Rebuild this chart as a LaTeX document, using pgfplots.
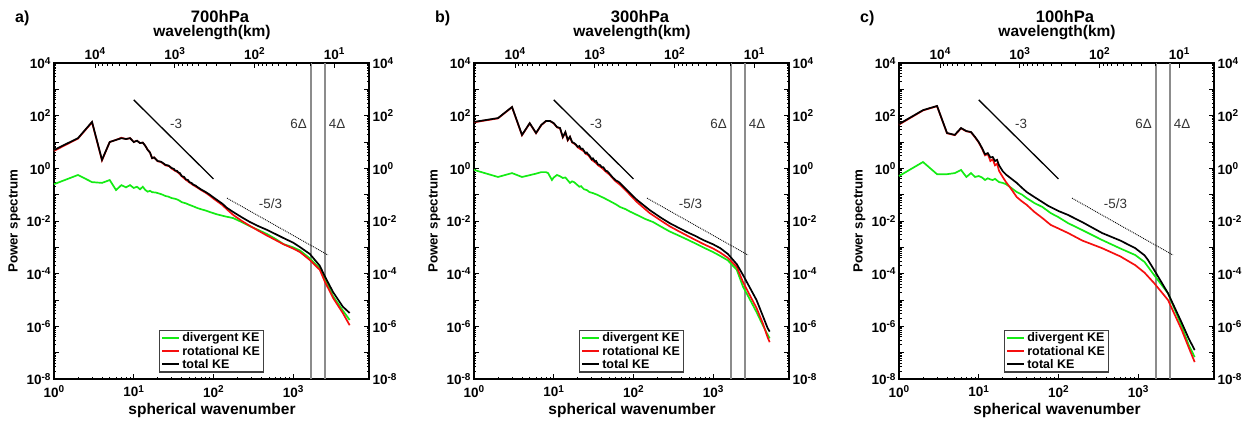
\documentclass[border=0pt]{standalone}
\usepackage{fontspec}
\setmainfont{Liberation Sans}
\usepackage{pgfplots}
\pgfplotsset{compat=1.18}
\definecolor{cg}{RGB}{20,235,20}
\definecolor{cr}{RGB}{245,15,15}
\definecolor{vl}{RGB}{140,140,140}
\newcommand\tkfont{\fontsize{13.5}{14}\selectfont\bfseries}
\newcommand\tp[1]{10\raisebox{4.5pt}{\fontsize{10}{10}\selectfont\bfseries #1}}
\newcommand\anfont{\fontsize{13.4}{14}\selectfont}
\begin{document}
\begin{tikzpicture}
\path[use as bounding box] (0pt,0pt) rectangle (1255pt,-421pt);
% ================= panel a
\begin{axis}[at={(54pt,-63pt)}, anchor=north west, scale only axis, width=315pt, height=316pt, clip=false,
    xmode=log, ymode=log, xmin=1, xmax=8950, ymin=1e-8, ymax=1e4,
    axis line style={line width=1.5pt},
    tick style={black, line width=0.9pt},
    major tick length=5pt, minor tick length=2.5pt,
    xtick={1,10,100,1000}, xticklabels={\tp{0},\tp{1},\tp{2},\tp{3}},
    xtick pos=left, ytick pos=both,
    ytick={1e-8,1e-7,1e-6,1e-5,1e-4,1e-3,1e-2,1e-1,1,1e1,1e2,1e3,1e4},
    yticklabels={\tp{-8},,\tp{-6},,\tp{-4},,\tp{-2},,\tp{0},,\tp{2},,\tp{4}},
    tick label style={font=\tkfont},
    xticklabel style={yshift=-3pt},
    legend style={at={(0.333,0.02)}, anchor=south west, draw=black!75, line width=1.2pt,
      font=\fontsize{12.5}{13}\selectfont\bfseries, inner xsep=1.5pt, inner ysep=0.5pt,
      row sep=-1.5pt, cells={anchor=west}},
    legend image post style={line width=2.2pt}]
\addplot[forget plot, vl, line width=1.5pt] coordinates {(1668,1e-8) (1668,1e4)};
\addplot[forget plot, vl, line width=1.5pt] coordinates {(2500,1e-8) (2500,1e4)};
\addplot[forget plot, black, line width=1.3pt] coordinates {(10,398) (100,0.398)};
\addplot[forget plot, black, line width=0.9pt, densely dotted] coordinates {(148,0.074) (2740,5.1e-4)};
\node[font=\anfont, text=black!80] at (axis cs:34,48) {-3};
\node[font=\anfont, text=black!80] at (axis cs:520,0.044) {-5/3};
\node[font=\anfont, text=black!80, anchor=east] at (axis cs:1640,48) {6Δ};
\node[font=\anfont, text=black!80, anchor=west] at (axis cs:2540,48) {4Δ};
\addplot[cg, line width=1.7pt] coordinates {(1,0.25) (2,0.56) (3,0.30) (4,0.28) (5,0.36) (6,0.15) (7,0.23) (8,0.19) (9,0.23) (10,0.18) (11,0.2) (12,0.16) (13,0.2) (14,0.15) (15,0.13) (16,0.14) (17,0.125) (19,0.12) (20,0.115) (22,0.105) (23,0.1) (25,0.089) (27,0.085) (30,0.074) (33,0.07) (35,0.066) (38,0.058) (40,0.052) (45,0.047) (50,0.041) (56,0.036) (63,0.031) (70,0.028) (80,0.025) (90,0.022) (110,0.018) (140,0.015) (177,0.0129) (230,0.0089) (288,0.0063) (370,0.0045) (470,0.0032) (600,0.0021) (760,0.00132) (1000,1e-3) (1220,7.6e-4) (1620,3.8e-4) (2160,1.6e-4) (2500,6.3e-5) (3170,1.4e-5) (4200,4e-6) (5120,1.74e-6)};
\addlegendentry{divergent KE}
\addplot[cr, line width=1.7pt] coordinates {(1,4.6) (2,13.5) (3,56) (4,2.0) (5,10) (6,12) (7,14.5) (8,13) (9,14) (10,10) (11,11.2) (12,9.1) (13,9.5) (14,7.1) (15,5.0) (16,4.0) (17,2.4) (18,2.6) (20,1.85) (22,1.75) (25,1.3) (28,1.2) (30,0.98) (33,0.81) (36,0.7) (40,0.5) (45,0.37) (50,0.29) (56,0.23) (63,0.185) (70,0.15) (80,0.118) (90,0.092) (100,0.071) (130,0.04) (147,0.028) (177,0.017) (230,0.0098) (288,0.0065) (370,0.0042) (470,0.0028) (600,0.0019) (760,0.0013) (1000,9e-4) (1220,6.6e-4) (1620,3.3e-4) (2160,1.4e-4) (2500,5e-5) (3170,1.2e-5) (4200,3.2e-6) (5120,1.1e-6)};
\addlegendentry{rotational KE}
\addplot[black, line width=1.7pt] coordinates {(1,5.0) (2,14) (3,58) (4,2.1) (5,10) (6,12) (7,14) (8,13) (9,14) (10,10) (11,11.2) (12,9.1) (13,9.5) (14,7.1) (15,5.0) (16,4.0) (17,2.45) (18,2.6) (20,1.9) (22,1.78) (24,1.5) (25,1.35) (27,1.3) (28,1.2) (30,1.02) (32,0.95) (33,0.83) (35,0.8) (36,0.71) (38,0.66) (40,0.51) (43,0.47) (45,0.38) (48,0.36) (50,0.30) (53,0.28) (56,0.24) (60,0.22) (63,0.195) (70,0.158) (80,0.126) (90,0.1) (100,0.079) (130,0.045) (147,0.032) (177,0.022) (230,0.0135) (288,0.0091) (370,0.0063) (470,0.0046) (600,0.0032) (760,0.00224) (1000,0.00151) (1220,0.00102) (1620,5.6e-4) (2160,2.0e-4) (2500,7.9e-5) (3170,2e-5) (4200,5.6e-6) (5120,3.2e-6)};
\addlegendentry{total KE}
\end{axis}
\begin{axis}[at={(54pt,-63pt)}, anchor=north west, scale only axis, width=315pt, height=316pt,
    xmode=log, x dir=reverse, xmin=3.66, xmax=32700, ymin=0, ymax=1,
    axis line style={draw=none}, ytick=\empty,
    xtick={10,100,1000,10000}, xticklabels={\tp{1},\tp{2},\tp{3},\tp{4}},
    xtick pos=right, xticklabel pos=right,
    tick style={black, line width=0.9pt}, major tick length=5pt, minor tick length=2.5pt,
    tick label style={font=\tkfont}]
\end{axis}
\begin{axis}[at={(54pt,-63pt)}, anchor=north west, scale only axis, width=315pt, height=316pt,
    ymode=log, ymin=1e-8, ymax=1e4, xmin=0, xmax=1,
    axis line style={draw=none}, xtick=\empty,
    ytick={1e-8,1e-6,1e-4,1e-2,1,1e2,1e4},
    yticklabels={\tp{-8},\tp{-6},\tp{-4},\tp{-2},\tp{0},\tp{2},\tp{4}},
    ytick pos=right, yticklabel pos=right, tick style={draw=none},
    tick label style={font=\tkfont}]
\end{axis}
% ================= panel b
\begin{axis}[at={(474pt,-63pt)}, anchor=north west, scale only axis, width=315pt, height=316pt, clip=false,
    xmode=log, ymode=log, xmin=1, xmax=8950, ymin=1e-8, ymax=1e4,
    axis line style={line width=1.5pt},
    tick style={black, line width=0.9pt},
    major tick length=5pt, minor tick length=2.5pt,
    xtick={1,10,100,1000}, xticklabels={\tp{0},\tp{1},\tp{2},\tp{3}},
    xtick pos=left, ytick pos=both,
    ytick={1e-8,1e-7,1e-6,1e-5,1e-4,1e-3,1e-2,1e-1,1,1e1,1e2,1e3,1e4},
    yticklabels={\tp{-8},,\tp{-6},,\tp{-4},,\tp{-2},,\tp{0},,\tp{2},,\tp{4}},
    tick label style={font=\tkfont},
    xticklabel style={yshift=-3pt},
    legend style={at={(0.333,0.02)}, anchor=south west, draw=black!75, line width=1.2pt,
      font=\fontsize{12.5}{13}\selectfont\bfseries, inner xsep=1.5pt, inner ysep=0.5pt,
      row sep=-1.5pt, cells={anchor=west}},
    legend image post style={line width=2.2pt}]
\addplot[forget plot, vl, line width=1.5pt] coordinates {(1668,1e-8) (1668,1e4)};
\addplot[forget plot, vl, line width=1.5pt] coordinates {(2500,1e-8) (2500,1e4)};
\addplot[forget plot, black, line width=1.3pt] coordinates {(10,398) (100,0.398)};
\addplot[forget plot, black, line width=0.9pt, densely dotted] coordinates {(148,0.074) (2740,5.1e-4)};
\node[font=\anfont, text=black!80] at (axis cs:34,48) {-3};
\node[font=\anfont, text=black!80] at (axis cs:520,0.044) {-5/3};
\node[font=\anfont, text=black!80, anchor=east] at (axis cs:1640,48) {6Δ};
\node[font=\anfont, text=black!80, anchor=west] at (axis cs:2540,48) {4Δ};
\addplot[cg, line width=1.7pt] coordinates {(1,0.87) (2,0.47) (3,0.66) (4,0.47) (5,0.55) (6,0.63) (7,0.72) (8,0.72) (8.5,0.66) (9.5,0.36) (10,0.45) (11,0.56) (12,0.5) (13,0.43) (14,0.45) (16,0.28) (17,0.32) (18,0.3) (19,0.26) (21,0.2) (22,0.21) (24,0.16) (26,0.15) (28,0.126) (31,0.115) (35,0.1) (39,0.085) (43,0.074) (49,0.06) (55,0.05) (61,0.042) (68,0.034) (80,0.028) (90,0.023) (111,0.017) (140,0.012) (177,0.0091) (220,0.0062) (285,0.004) (370,0.0028) (470,0.002) (600,0.0014) (750,1e-3) (1000,6.6e-4) (1230,4.7e-4) (1530,3.2e-4) (1980,1.4e-4) (2370,3.2e-5) (2800,1.26e-5) (3500,3.5e-6) (4200,1.1e-6) (4800,5e-7) (5120,3.5e-7)};
\addlegendentry{divergent KE}
\addplot[cr, line width=1.7pt] coordinates {(1,56) (2,79) (3,210) (4,18) (5,51) (6,21.5) (7,44) (8,62) (9,62) (10,51) (11,36) (12,33) (13,15) (14,23) (15,11.5) (16,15.5) (17,9.6) (18,8.8) (19,7.6) (20,6.3) (22,5.2) (24,4.4) (25,3.6) (27,3.2) (30,2.1) (33,1.7) (36,1.3) (40,1.05) (45,0.75) (50,0.58) (55,0.42) (60,0.32) (70,0.22) (83,0.13) (100,0.072) (111,0.052) (160,0.02) (220,0.0105) (285,0.0063) (370,0.0041) (470,0.0028) (600,0.0019) (750,0.00135) (1000,9e-4) (1230,6.3e-4) (1530,4e-4) (1980,1.8e-4) (2370,4.8e-5) (2800,1.8e-5) (3500,5e-6) (4200,1.3e-6) (4800,4e-7) (5120,2.5e-7)};
\addlegendentry{rotational KE}
\addplot[black, line width=1.7pt] coordinates {(1,58) (2,81) (3,214) (4,18.6) (5,52) (6,22) (7,45) (8,63) (9,63) (10,52) (11,37) (12,34) (13,15.5) (14,24) (15,12) (16,16) (17,10) (18,9.1) (19,8) (20,6.5) (21,7) (22,5.5) (23,5.6) (24,4.6) (25,3.8) (26,4.0) (27,3.4) (28,3.1) (30,2.2) (31,2.4) (33,1.8) (34,1.9) (36,1.4) (38,1.35) (40,1.12) (42,1.1) (45,0.8) (47,0.78) (50,0.63) (55,0.45) (60,0.35) (65,0.31) (70,0.25) (83,0.15) (100,0.085) (111,0.063) (160,0.026) (220,0.0135) (285,0.0083) (370,0.0055) (470,0.0038) (600,0.0027) (750,0.0019) (1000,1.3e-3) (1230,9.3e-4) (1530,5.6e-4) (1980,2.3e-4) (2370,8.9e-5) (2800,3.5e-5) (3500,1.0e-5) (4200,2.5e-6) (4800,8.9e-7) (5120,6.3e-7)};
\addlegendentry{total KE}
\end{axis}
\begin{axis}[at={(474pt,-63pt)}, anchor=north west, scale only axis, width=315pt, height=316pt,
    xmode=log, x dir=reverse, xmin=3.66, xmax=32700, ymin=0, ymax=1,
    axis line style={draw=none}, ytick=\empty,
    xtick={10,100,1000,10000}, xticklabels={\tp{1},\tp{2},\tp{3},\tp{4}},
    xtick pos=right, xticklabel pos=right,
    tick style={black, line width=0.9pt}, major tick length=5pt, minor tick length=2.5pt,
    tick label style={font=\tkfont}]
\end{axis}
\begin{axis}[at={(474pt,-63pt)}, anchor=north west, scale only axis, width=315pt, height=316pt,
    ymode=log, ymin=1e-8, ymax=1e4, xmin=0, xmax=1,
    axis line style={draw=none}, xtick=\empty,
    ytick={1e-8,1e-6,1e-4,1e-2,1,1e2,1e4},
    yticklabels={\tp{-8},\tp{-6},\tp{-4},\tp{-2},\tp{0},\tp{2},\tp{4}},
    ytick pos=right, yticklabel pos=right, tick style={draw=none},
    tick label style={font=\tkfont}]
\end{axis}
% ================= panel c
\begin{axis}[at={(899pt,-63pt)}, anchor=north west, scale only axis, width=315pt, height=316pt, clip=false,
    xmode=log, ymode=log, xmin=1, xmax=8950, ymin=1e-8, ymax=1e4,
    axis line style={line width=1.5pt},
    tick style={black, line width=0.9pt},
    major tick length=5pt, minor tick length=2.5pt,
    xtick={1,10,100,1000}, xticklabels={\tp{0},\tp{1},\tp{2},\tp{3}},
    xtick pos=left, ytick pos=both,
    ytick={1e-8,1e-7,1e-6,1e-5,1e-4,1e-3,1e-2,1e-1,1,1e1,1e2,1e3,1e4},
    yticklabels={\tp{-8},,\tp{-6},,\tp{-4},,\tp{-2},,\tp{0},,\tp{2},,\tp{4}},
    tick label style={font=\tkfont},
    xticklabel style={yshift=-3pt},
    legend style={at={(0.333,0.02)}, anchor=south west, draw=black!75, line width=1.2pt,
      font=\fontsize{12.5}{13}\selectfont\bfseries, inner xsep=1.5pt, inner ysep=0.5pt,
      row sep=-1.5pt, cells={anchor=west}},
    legend image post style={line width=2.2pt}]
\addplot[forget plot, vl, line width=1.5pt] coordinates {(1668,1e-8) (1668,1e4)};
\addplot[forget plot, vl, line width=1.5pt] coordinates {(2500,1e-8) (2500,1e4)};
\addplot[forget plot, black, line width=1.3pt] coordinates {(10,398) (100,0.398)};
\addplot[forget plot, black, line width=0.9pt, densely dotted] coordinates {(148,0.074) (2740,5.1e-4)};
\node[font=\anfont, text=black!80] at (axis cs:34,48) {-3};
\node[font=\anfont, text=black!80] at (axis cs:520,0.044) {-5/3};
\node[font=\anfont, text=black!80, anchor=east] at (axis cs:1640,48) {6Δ};
\node[font=\anfont, text=black!80, anchor=west] at (axis cs:2540,48) {4Δ};
\addplot[cg, line width=1.7pt] coordinates {(1,0.51) (2,1.74) (3,0.6) (4,0.6) (5,0.66) (6,0.87) (7,0.47) (8,0.66) (9,0.47) (10,0.51) (11,0.45) (12,0.36) (13,0.42) (14,0.38) (15,0.36) (16,0.4) (18,0.3) (20,0.28) (22,0.25) (25,0.19) (30,0.126) (35,0.1) (40,0.074) (50,0.048) (63,0.034) (80,0.02) (100,0.014) (132,0.0083) (200,0.0045) (353,0.0019) (600,9e-4) (920,5.1e-4) (1200,2.8e-4) (1585,8.9e-5) (2370,1.8e-5) (3530,1e-6) (4300,2e-7) (5120,6.8e-8)};
\addlegendentry{divergent KE}
\addplot[cr, line width=1.7pt] coordinates {(1,46) (2,158) (3,230) (4,21.5) (5,18.2) (6,33) (7,25.5) (8,23.5) (9,15) (10,9.6) (11,5.6) (12,3.1) (13,3.5) (14,1.9) (15,2.2) (16,1.3) (17,1.5) (18,0.8) (20,0.47) (22,0.3) (25,0.18) (30,0.081) (35,0.055) (40,0.041) (50,0.022) (63,0.0129) (80,0.0071) (100,0.0052) (132,0.0035) (200,0.0018) (353,9.3e-4) (600,4.5e-4) (920,2.1e-4) (1200,1.1e-4) (1585,4.4e-5) (2370,1e-5) (3530,7.2e-7) (4300,1.6e-7) (5120,4.4e-8)};
\addlegendentry{rotational KE}
\addplot[black, line width=1.7pt] coordinates {(1,48) (2,162) (3,234) (4,22) (5,18.6) (6,34) (7,26) (8,24) (9,15.5) (10,10) (11,5.9) (12,3.4) (13,3.8) (14,2.6) (15,2.7) (16,1.9) (17,2.1) (18,1.3) (20,0.78) (22,0.58) (25,0.43) (30,0.28) (35,0.18) (40,0.126) (50,0.081) (63,0.052) (74,0.038) (100,0.024) (132,0.017) (200,0.009) (353,0.0035) (600,0.0018) (920,9.3e-4) (1200,5e-4) (1330,3.3e-4) (1585,1.4e-4) (2370,1.8e-5) (3530,1.35e-6) (4300,3.5e-7) (5120,1.26e-7)};
\addlegendentry{total KE}
\end{axis}
\begin{axis}[at={(899pt,-63pt)}, anchor=north west, scale only axis, width=315pt, height=316pt,
    xmode=log, x dir=reverse, xmin=3.66, xmax=32700, ymin=0, ymax=1,
    axis line style={draw=none}, ytick=\empty,
    xtick={10,100,1000,10000}, xticklabels={\tp{1},\tp{2},\tp{3},\tp{4}},
    xtick pos=right, xticklabel pos=right,
    tick style={black, line width=0.9pt}, major tick length=5pt, minor tick length=2.5pt,
    tick label style={font=\tkfont}]
\end{axis}
\begin{axis}[at={(899pt,-63pt)}, anchor=north west, scale only axis, width=315pt, height=316pt,
    ymode=log, ymin=1e-8, ymax=1e4, xmin=0, xmax=1,
    axis line style={draw=none}, xtick=\empty,
    ytick={1e-8,1e-6,1e-4,1e-2,1,1e2,1e4},
    yticklabels={\tp{-8},\tp{-6},\tp{-4},\tp{-2},\tp{0},\tp{2},\tp{4}},
    ytick pos=right, yticklabel pos=right, tick style={draw=none},
    tick label style={font=\tkfont}]
\end{axis}
% ================= texts
\foreach \dx/\lt/\tt in {0/a)/700hPa, 420/b)/300hPa, 845/c)/100hPa} {
  \node[anchor=base west, font=\fontsize{16}{17}\selectfont\bfseries, inner sep=0] at (15pt+\dx pt,-22.5pt) {\lt};
  \node[anchor=base, font=\fontsize{16.6}{17}\selectfont\bfseries, inner sep=0] at (220pt+\dx pt,-22.5pt) {\tt};
  \node[anchor=base, font=\fontsize{15.5}{16}\selectfont\bfseries, inner sep=0] at (212pt+\dx pt,-36pt) {wavelength(km)};
  \node[anchor=base, font=\fontsize{15.5}{16}\selectfont\bfseries, inner sep=0] at (212pt+\dx pt,-414pt) {spherical wavenumber};
  \node[anchor=base, rotate=90, font=\fontsize{13.3}{14}\selectfont\bfseries, inner sep=0] at (17.5pt+\dx pt,-221pt) {Power spectrum};
}
\end{tikzpicture}
\end{document}
